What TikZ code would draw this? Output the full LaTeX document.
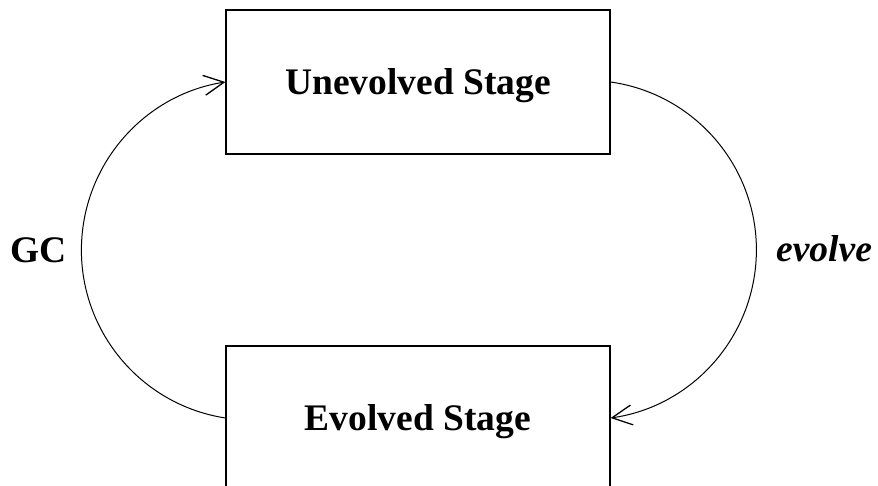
\documentclass[tikz,border=0pt]{standalone}
\usepackage{fontspec}
\setmainfont{Liberation Serif}
\usetikzlibrary{arrows.meta}
\begin{document}
\begin{tikzpicture}[x=1pt,y=1pt,
  stagebox/.style={draw, line width=1.2pt, minimum width=384pt, minimum height=144pt,
    inner sep=0pt, font=\fontsize{37.5}{44}\selectfont\bfseries,
    text height=25pt, text depth=0pt},
  lbl/.style={anchor=base, font=\fontsize{37.5}{44}\selectfont\bfseries},
  flow/.style={line width=1pt, -{Straight Barb[length=20pt, width=20pt, line width=1.3pt]}}]
  \clip (0,0) rectangle (878,486);
  \node[stagebox] (top) at (418,404) {Unevolved Stage};
  \node[stagebox] (bottom) at (418,68) {Evolved Stage};
  \node[lbl] (gc) at (38.7,223) {GC};
  \node[lbl] (ev) at (824,224) {\itshape evolve};
  % evolve: right-hand arc from the unevolved to the evolved stage
  \draw[flow] (top.east) arc[start angle=81.9, end angle=-81.9, radius=169.7];
  % GC: left-hand arc back to the unevolved stage
  \draw[flow] (bottom.west) arc[start angle=261.2, end angle=98.8, radius=170];
\end{tikzpicture}
\end{document}
